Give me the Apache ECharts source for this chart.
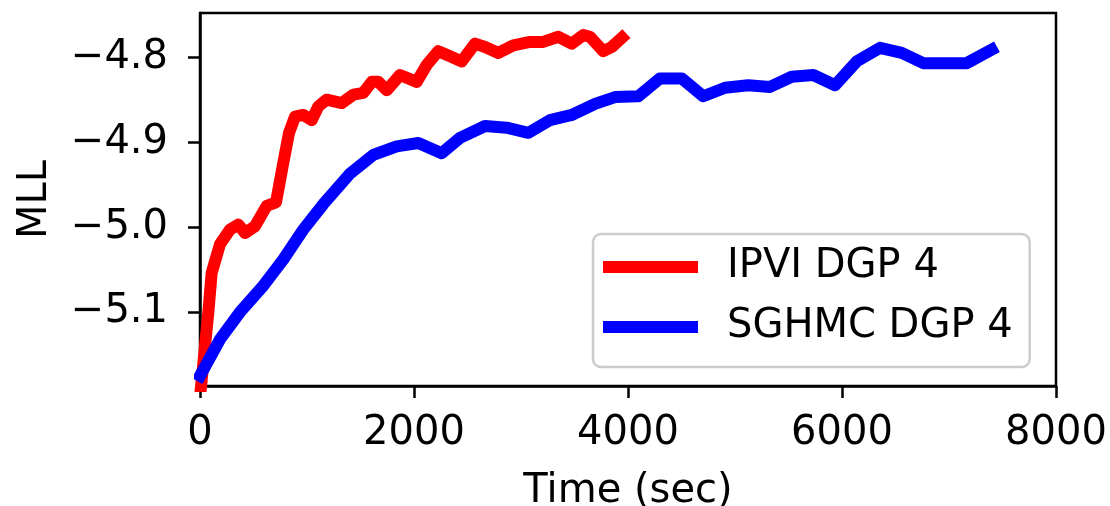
<!DOCTYPE html>
<html>
<head>
<meta charset="utf-8">
<script src="https://cdn.jsdelivr.net/npm/echarts@6/dist/echarts.min.js"></script>
<style>
  html, body { margin: 0; padding: 0; background: #fff; }
  #main { width: 1110px; height: 506px; }
</style>
</head>
<body>
<div id="main"></div>
<script>
// IPVI DGP 4 (red)
var ipviTime = [0, 78, 109, 187, 280, 358, 421, 514, 623, 710, 776, 832, 888, 965, 1044, 1106, 1184, 1324, 1433, 1526,
  1605, 1666, 1745, 1869, 2025, 2119, 2227, 2337, 2446, 2570, 2664, 2788, 2928, 3084, 3208, 3349, 3474, 3582, 3645, 3769, 3848, 3944];
var ipviMLL = [-5.2, -5.100, -5.054, -5.020, -5.003, -4.997, -5.007, -4.999, -4.975, -4.971, -4.926, -4.889, -4.870, -4.868, -4.874, -4.858, -4.850, -4.854, -4.844, -4.842,
  -4.829, -4.829, -4.839, -4.821, -4.829, -4.809, -4.793, -4.799, -4.805, -4.784, -4.788, -4.795, -4.786, -4.782, -4.782, -4.776, -4.784, -4.774, -4.776, -4.793, -4.788, -4.777];

// SGHMC DGP 4 (blue)
var sghmcTime = [0, 187, 374, 592, 779, 965, 1152, 1402, 1620, 1838, 2040, 2259, 2430, 2664, 2866, 3068, 3271, 3474, 3692, 3878,
  4096, 4299, 4502, 4704, 4907, 5124, 5327, 5530, 5732, 5935, 6137, 6355, 6558, 6760, 6963, 7166, 7399];
var sghmcMLL = [-5.175, -5.132, -5.100, -5.069, -5.038, -5.003, -4.973, -4.937, -4.915, -4.905, -4.901, -4.913, -4.895, -4.881, -4.883, -4.889, -4.874, -4.868, -4.855, -4.847,
  -4.846, -4.825, -4.825, -4.846, -4.836, -4.833, -4.835, -4.823, -4.821, -4.833, -4.805, -4.789, -4.795, -4.807, -4.807, -4.807, -4.791];

var xTicks = [0, 2000, 4000, 6000, 8000];
var yTicks = [-5.1, -5.0, -4.9, -4.8];

function pairs(xs, ys) {
  return xs.map(function (x, i) { return [x, ys[i]]; });
}

var font = 'DejaVu Sans';
var fs = 40;
var myChart = echarts.init(document.getElementById('main'));
var option = {
  backgroundColor: '#fff',
  animation: false,
  grid: {
    left: 200, right: 54, top: 13, bottom: 120,
    outerBoundsMode: 'none', containLabel: false,
    show: true, borderColor: '#000', borderWidth: 2.5
  },
  legend: {
    orient: 'vertical',
    left: 593, top: 234,
    backgroundColor: '#fff',
    borderColor: '#cccccc', borderWidth: 2.5, borderRadius: 8,
    padding: [11, 17, 18, 10],
    itemWidth: 95, itemHeight: 12, itemGap: 16,
    icon: 'rect',
    textStyle: { fontFamily: font, fontSize: fs, color: '#000', lineHeight: 44, padding: [0, 0, 0, 24] },
    data: ['IPVI DGP 4', 'SGHMC DGP 4']
  },
  xAxis: {
    type: 'value',
    min: 0, max: 8000, interval: 2000,
    name: 'Time (sec)',
    nameLocation: 'middle', nameGap: 86,
    nameTextStyle: { fontFamily: font, fontSize: fs, color: '#000' },
    axisLine: { show: true, lineStyle: { color: '#000', width: 2.5 } },
    axisTick: { show: true, length: 12, inside: false, lineStyle: { color: '#000', width: 2.5 }, customValues: xTicks },
    axisLabel: {
      fontFamily: font, fontSize: fs, color: '#000', margin: 28, customValues: xTicks,
      formatter: function (v) { return String(v); }
    },
    splitLine: { show: false }
  },
  yAxis: {
    type: 'value',
    min: -5.187, max: -4.748,
    name: 'MLL',
    nameLocation: 'middle', nameGap: 144, nameRotate: 90,
    nameTextStyle: { fontFamily: font, fontSize: fs, color: '#000' },
    axisLine: { show: true, lineStyle: { color: '#000', width: 2.5 } },
    axisTick: { show: true, length: 12, inside: false, lineStyle: { color: '#000', width: 2.5 }, customValues: yTicks },
    axisLabel: {
      fontFamily: font, fontSize: fs, color: '#000', margin: 32, customValues: yTicks,
      formatter: function (v) { return v.toFixed(1).replace('-', '\u2212'); }
    },
    splitLine: { show: false }
  },
  series: [
    {
      name: 'IPVI DGP 4', type: 'line', showSymbol: false, symbol: 'none', clip: true,
      itemStyle: { color: '#ff0000' },
      lineStyle: { color: '#ff0000', width: 12, join: 'round', cap: 'square' },
      data: pairs(ipviTime, ipviMLL)
    },
    {
      name: 'SGHMC DGP 4', type: 'line', showSymbol: false, symbol: 'none', clip: true,
      itemStyle: { color: '#0000ff' },
      lineStyle: { color: '#0000ff', width: 12, join: 'round', cap: 'square' },
      data: pairs(sghmcTime, sghmcMLL)
    }
  ]
};
myChart.setOption(option);
</script>
</body>
</html>
